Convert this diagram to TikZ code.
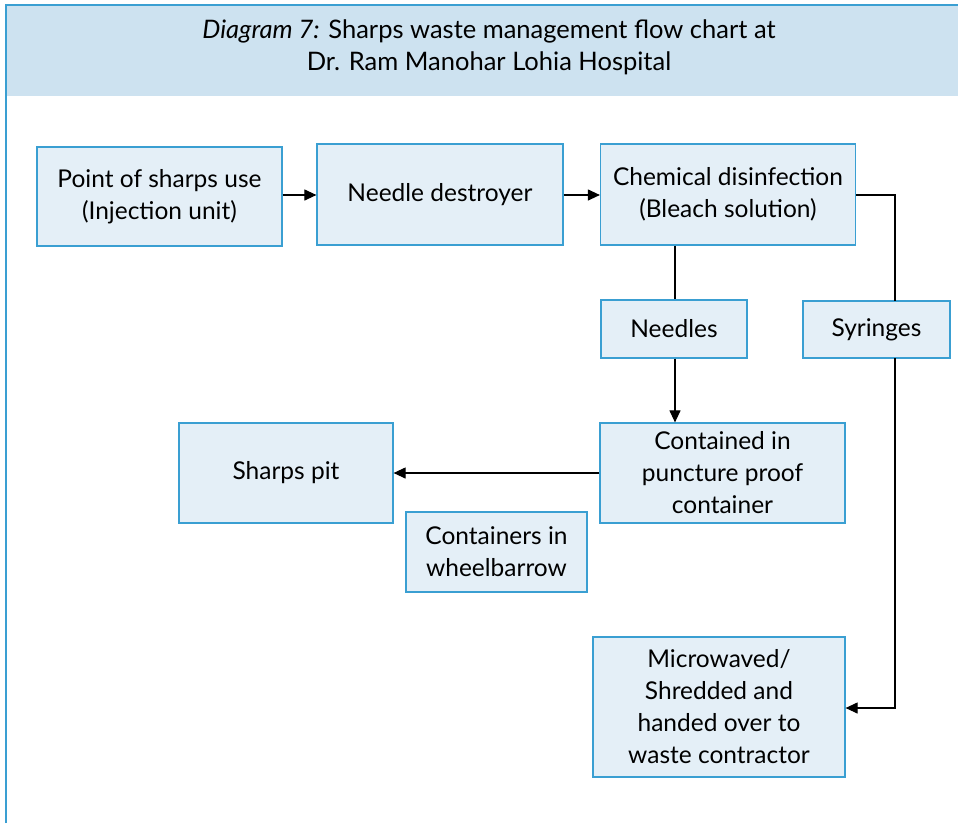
\documentclass[tikz,border=0pt]{standalone}
\usepackage{fontspec}
\setmainfont{Lato}
\usetikzlibrary{arrows.meta}
\definecolor{framebl}{HTML}{3A9FD2}
\definecolor{headfill}{HTML}{CDE2F0}
\definecolor{boxfill}{HTML}{E4EFF7}
\definecolor{boxline}{HTML}{3A9FD2}
\begin{document}
\begin{tikzpicture}[x=1pt,y=-1pt,
  flowbox/.style={draw=boxline,fill=boxfill,line width=1.2pt,align=center,
    inner sep=0pt,font=\fontsize{24.5}{32}\selectfont},
  link/.style={draw=black,line width=1.1pt},
  arrowlink/.style={link,-{Triangle[length=12pt,width=11pt]}}]
\useasboundingbox (0,0) rectangle (958,823);
% header band and frame
\fill[headfill] (6,5) rectangle (958,96);
\draw[framebl,line width=1.6pt] (6,823) -- (6,5) -- (958,5);
\node[align=center,font=\fontsize{25.5}{32}\selectfont] (title) at (489,47)
  {\textit{Diagram 7:} Sharps waste management flow chart at\\Dr. Ram Manohar Lohia Hospital};
% process boxes
\node[flowbox,minimum width=245pt,minimum height=99pt] (use) at (159.5,196.5)
  {Point of sharps use\\(Injection unit)};
\node[flowbox,minimum width=246pt,minimum height=101pt] (destroyer) at (440,194.5)
  {Needle destroyer};
\node[flowbox,minimum width=255pt,minimum height=101pt] (chem) at (728,194.5)
  {Chemical disinfection\\(Bleach solution)};
\node[flowbox,minimum width=146pt,minimum height=58pt] (needles) at (674,329)
  {Needles};
\node[flowbox,minimum width=147pt,minimum height=57pt] (syringes) at (876.5,329.5)
  {Syringes};
\node[flowbox,minimum width=245pt,minimum height=100pt] (contained) at (722.5,473)
  {Contained in\\puncture proof\\container};
\node[flowbox,minimum width=214pt,minimum height=100pt] (pit) at (286,473)
  {Sharps pit};
\node[flowbox,minimum width=181pt,minimum height=80pt] (wheel) at (496.5,552)
  {Containers in\\wheelbarrow};
\node[flowbox,minimum width=252pt,minimum height=140pt] (micro) at (719,707)
  {Microwaved/\\Shredded and\\handed over to\\waste contractor};
% connectors
\coordinate (syrin) at (895,301);
\coordinate (syrout) at (895,358);
\coordinate (bend) at (895,708);
\draw[arrowlink] (use.east |- 0,195) -- (destroyer.west |- 0,195);
\draw[arrowlink] (destroyer.east |- 0,195) -- (chem.west |- 0,195);
\draw[link] (chem.east |- 0,195) -| (syrin);
\draw[link] (chem.south -| 675,0) -- (needles.north -| 675,0);
\draw[arrowlink] (needles.south -| 675,0) -- (contained.north -| 675,0);
\draw[arrowlink] (contained.west) -- (pit.east);
\draw[arrowlink] (syrout) -- (bend) -- (micro.east |- bend);
\end{tikzpicture}
\end{document}
